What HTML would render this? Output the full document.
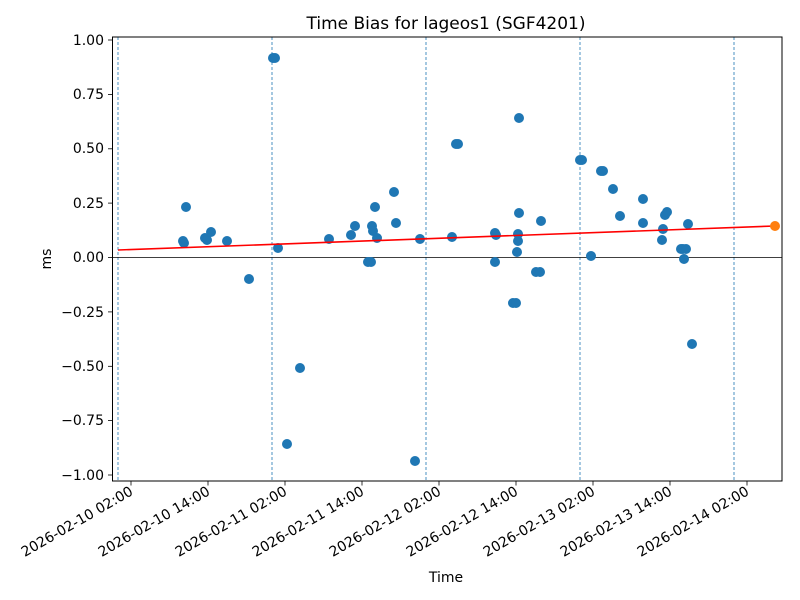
<!DOCTYPE html>
<html><head><meta charset="utf-8"><style>body{margin:0;background:#fff}svg{display:block}text{font-family:"DejaVu Sans","Liberation Sans",sans-serif;fill:#000}</style></head><body>
<svg width="800" height="600" xmlns="http://www.w3.org/2000/svg">
<g stroke="#1f77b4" stroke-width="0.8" stroke-dasharray="3,2">
<line x1="118" y1="37" x2="118" y2="481"/><line x1="272" y1="37" x2="272" y2="481"/><line x1="426" y1="37" x2="426" y2="481"/><line x1="580" y1="37" x2="580" y2="481"/><line x1="734" y1="37" x2="734" y2="481"/>
</g>
<line x1="112.5" y1="257.5" x2="782" y2="257.5" stroke="#000" stroke-width="0.8"/>
<g fill="#1f77b4">
<circle cx="184" cy="243" r="5"/><circle cx="183" cy="241" r="5"/><circle cx="186" cy="207" r="5"/><circle cx="205" cy="238" r="5"/><circle cx="207" cy="240" r="5"/><circle cx="211" cy="232" r="5"/><circle cx="227" cy="241" r="5"/><circle cx="249" cy="279" r="5"/><circle cx="273" cy="58" r="5"/><circle cx="275" cy="58" r="5"/><circle cx="278" cy="248" r="5"/><circle cx="287" cy="444" r="5"/><circle cx="300" cy="368" r="5"/><circle cx="329" cy="239" r="5"/><circle cx="351" cy="235" r="5"/><circle cx="355" cy="226" r="5"/><circle cx="368" cy="262" r="5"/><circle cx="371" cy="262" r="5"/><circle cx="372" cy="226" r="5"/><circle cx="373" cy="231" r="5"/><circle cx="375" cy="207" r="5"/><circle cx="377" cy="238" r="5"/><circle cx="394" cy="192" r="5"/><circle cx="396" cy="223" r="5"/><circle cx="415" cy="461" r="5"/><circle cx="420" cy="239" r="5"/><circle cx="452" cy="237" r="5"/><circle cx="456" cy="144" r="5"/><circle cx="458" cy="144" r="5"/><circle cx="495" cy="233" r="5"/><circle cx="496" cy="235" r="5"/><circle cx="495" cy="262" r="5"/><circle cx="513" cy="303" r="5"/><circle cx="516" cy="303" r="5"/><circle cx="517" cy="252" r="5"/><circle cx="518" cy="241" r="5"/><circle cx="518" cy="234" r="5"/><circle cx="519" cy="213" r="5"/><circle cx="519" cy="118" r="5"/><circle cx="536" cy="272" r="5"/><circle cx="540" cy="272" r="5"/><circle cx="541" cy="221" r="5"/><circle cx="580" cy="160" r="5"/><circle cx="582" cy="160" r="5"/><circle cx="591" cy="256" r="5"/><circle cx="601" cy="171" r="5"/><circle cx="603" cy="171" r="5"/><circle cx="613" cy="189" r="5"/><circle cx="620" cy="216" r="5"/><circle cx="643" cy="199" r="5"/><circle cx="643" cy="223" r="5"/><circle cx="662" cy="240" r="5"/><circle cx="663" cy="229" r="5"/><circle cx="665" cy="215" r="5"/><circle cx="667" cy="212" r="5"/><circle cx="681" cy="249" r="5"/><circle cx="683" cy="249" r="5"/><circle cx="686" cy="249" r="5"/><circle cx="684" cy="259" r="5"/><circle cx="688" cy="224" r="5"/><circle cx="692" cy="344" r="5"/>
</g>
<line x1="118" y1="250" x2="775" y2="226" stroke="#ff0000" stroke-width="1.6"/>
<circle cx="775" cy="226" r="5" fill="#ff7f0e"/>
<rect x="112.5" y="37" width="669.5" height="444" fill="none" stroke="#000" stroke-width="1"/>
<g stroke="#000" stroke-width="0.8">
<line x1="108" y1="40" x2="112.5" y2="40"/><line x1="108" y1="94.4" x2="112.5" y2="94.4"/><line x1="108" y1="148.8" x2="112.5" y2="148.8"/><line x1="108" y1="203.1" x2="112.5" y2="203.1"/><line x1="108" y1="257.5" x2="112.5" y2="257.5"/><line x1="108" y1="311.9" x2="112.5" y2="311.9"/><line x1="108" y1="366.3" x2="112.5" y2="366.3"/><line x1="108" y1="420.6" x2="112.5" y2="420.6"/><line x1="108" y1="475" x2="112.5" y2="475"/>
<line x1="131" y1="481" x2="131" y2="485.5"/><line x1="208" y1="481" x2="208" y2="485.5"/><line x1="285" y1="481" x2="285" y2="485.5"/><line x1="362" y1="481" x2="362" y2="485.5"/><line x1="439" y1="481" x2="439" y2="485.5"/><line x1="516" y1="481" x2="516" y2="485.5"/><line x1="593" y1="481" x2="593" y2="485.5"/><line x1="670" y1="481" x2="670" y2="485.5"/><line x1="747" y1="481" x2="747" y2="485.5"/>
</g>
<g font-size="14" text-anchor="end">
<text x="104" y="45">1.00</text><text x="104" y="99">0.75</text><text x="104" y="153">0.50</text><text x="104" y="208">0.25</text><text x="104" y="262">0.00</text><text x="104" y="317">−0.25</text><text x="104" y="371">−0.50</text><text x="104" y="425">−0.75</text><text x="104" y="480">−1.00</text>
</g>
<g font-size="14" text-anchor="end">
<text transform="translate(134,494) rotate(-30)">2026-02-10 02:00</text>
<text transform="translate(211,494) rotate(-30)">2026-02-10 14:00</text>
<text transform="translate(288,494) rotate(-30)">2026-02-11 02:00</text>
<text transform="translate(365,494) rotate(-30)">2026-02-11 14:00</text>
<text transform="translate(442,494) rotate(-30)">2026-02-12 02:00</text>
<text transform="translate(519,494) rotate(-30)">2026-02-12 14:00</text>
<text transform="translate(596,494) rotate(-30)">2026-02-13 02:00</text>
<text transform="translate(673,494) rotate(-30)">2026-02-13 14:00</text>
<text transform="translate(750,494) rotate(-30)">2026-02-14 02:00</text>
</g>
<text x="446" y="582" font-size="14" text-anchor="middle">Time</text>
<text transform="translate(51,259) rotate(-90)" font-size="14" text-anchor="middle">ms</text>
<text x="446" y="29" font-size="17" text-anchor="middle">Time Bias for lageos1 (SGF4201)</text>
</svg>
</body></html>
